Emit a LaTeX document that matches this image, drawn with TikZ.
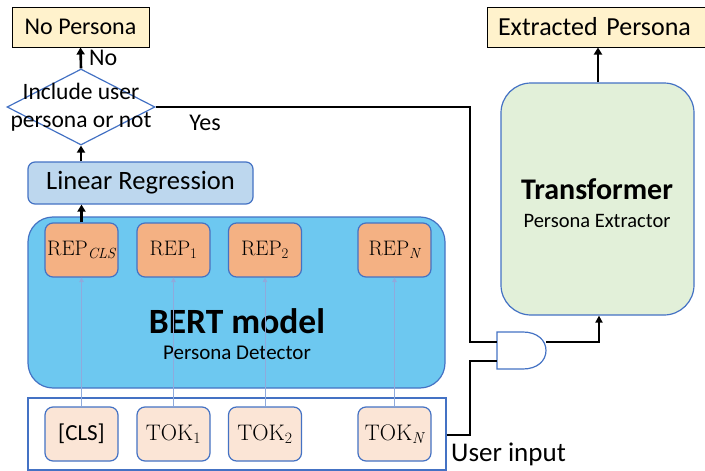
\documentclass[tikz,border=0pt]{standalone}
\usepackage{fontspec}
\setmainfont{Carlito}
\newfontfamily\serifrm{Latin Modern Roman}
\usetikzlibrary{arrows.meta,shapes.geometric}
\definecolor{obl}{HTML}{4472C4}
\definecolor{yel}{HTML}{FFF2CC}
\definecolor{lrb}{HTML}{BDD7EE}
\definecolor{bert}{HTML}{6DC8F0}
\definecolor{rep}{HTML}{F4B183}
\definecolor{tok}{HTML}{FBE5D6}
\definecolor{grn}{HTML}{E2F0D9}
\definecolor{thin}{HTML}{8FAADC}
\tikzset{
  outbox/.style={draw=black, line width=1pt, fill=yel, inner sep=0pt},
  dia/.style={draw=obl, line width=1.2pt, fill=white, shape=diamond, inner sep=0pt},
  lrbox/.style={draw=obl, line width=1.2pt, fill=lrb, rounded corners=7pt, inner sep=0pt, font=\fontsize{26.5}{30}\selectfont},
  bigbox/.style={draw=obl, line width=1.2pt, rounded corners=#1, inner sep=0pt},
  repbox/.style={draw=obl, line width=1.2pt, fill=rep, rounded corners=8pt, minimum width=73pt, minimum height=54pt, inner sep=0pt, font=\serifrm\fontsize{21}{24}\selectfont},
  tokbox/.style={draw=obl, line width=1.2pt, fill=tok, rounded corners=8pt, minimum width=73pt, minimum height=54pt, inner sep=0pt, font=\serifrm\fontsize{22.5}{24}\selectfont},
  thick arrow/.style={line width=2.6pt, -{Triangle[length=7pt,width=8pt]}},
  wire/.style={line width=1.8pt, black},
  thin arrow/.style={draw=thin, line width=0.9pt, -{Triangle[length=4.5pt,width=4.5pt]}},
  lbl/.style={inner sep=0pt, font=\fontsize{24}{28}\selectfont},
}
\begin{document}
\begin{tikzpicture}[x=1pt,y=-1pt]
\useasboundingbox (0,0) rectangle (705,471);
% output boxes
\node[outbox, minimum width=137pt, minimum height=40pt, font=\fontsize{24}{28}\selectfont] (nop) at (80.5,27) {No Persona};
\node[outbox, minimum width=222pt, minimum height=40pt, text width=200pt, align=left, font=\fontsize{26}{30}\selectfont] (extp) at (598,27) {Extracted Persona};
% decision diamond
\node[dia, minimum width=148pt, minimum height=76pt] (dec) at (81,107) {};
\node[lbl, align=center, font=\fontsize{23.5}{28}\selectfont] (dectext) at (dec.center) {Include user\\persona or not};
% linear regression
\node[lrbox, minimum width=225pt, minimum height=42pt] (lr) at (140.5,183) {Linear Regression};
% BERT
\node[bigbox=25pt, fill=bert, minimum width=417pt, minimum height=171pt] (bert) at (236.5,302.5) {};
\node[lbl, font=\bfseries\fontsize{35.5}{38}\selectfont] (berttitle) at (237,321) {BERT model};
\node[lbl, font=\fontsize{21}{24}\selectfont] (bertsub) at (237,353) {Persona Detector};
% REP boxes
\node[repbox] (r0) at (81.5,250) {REP\textsubscript{\itshape CLS}};
\node[repbox] (r1) at (173.5,250) {REP\textsubscript{1}};
\node[repbox] (r2) at (265,250) {REP\textsubscript{2}};
\node[repbox] (rn) at (394.5,250) {REP\textsubscript{\itshape N}};
% user input
\node[bigbox=0pt, fill=white, minimum width=418pt, minimum height=72pt] (ui) at (237,434) {};
\node[tokbox, font=\fontsize{23}{26}\selectfont] (t0) at (81.5,434) {[CLS]};
\node[tokbox] (t1) at (173.5,434) {TOK\textsubscript{1}};
\node[tokbox] (t2) at (265,434) {TOK\textsubscript{2}};
\node[tokbox] (tn) at (394.5,434) {TOK\textsubscript{\itshape N}};
\node[lbl, anchor=west, font=\fontsize{27}{30}\selectfont] (uilbl) at (451,454) {User input};
% transformer
\node[bigbox=30pt, fill=grn, minimum width=193pt, minimum height=232pt] (tr) at (597.5,199) {};
\node[lbl, font=\bfseries\fontsize{30}{34}\selectfont] (trtitle) at (597,189) {Transformer};
\node[lbl, font=\fontsize{20.5}{24}\selectfont] (trsub) at (597,221) {Persona Extractor};
% AND gate
\coordinate (gA) at (497,332);
\coordinate (gB) at (523,332);
\coordinate (gC) at (546,350.5);
\coordinate (gD) at (523,369);
\coordinate (gE) at (497,369);
\draw[draw=obl, line width=1.2pt, fill=white] (gA) -- (gB) .. controls (537,332) and (546,340) .. (gC) .. controls (546,361) and (537,369) .. (gD) -- (gE) -- cycle;
\coordinate (gin1) at (497,342);
\coordinate (gin2) at (497,361);
\coordinate (gout) at (546,342);
% thin arrows
\foreach \a/\b in {t0/r0,t1/r1,t2/r2,tn/rn} \draw[thin arrow] (\a.north) -- (\b.south);
% thick arrows
\draw[thick arrow] (r0.north) -- (lr.south -| r0.north);
\draw[thick arrow] (lr.north -| dec.south) -- (dec.south);
\draw[thick arrow] (dec.north) -- (nop.south);
\node[lbl, anchor=west] (nolbl) at (89,58) {No};
\draw[thick arrow] (tr.north -| 598,0) -- (extp.south -| 598,0);
% wires
\draw[wire] (dec.east) -| (470,342) -- (gin1);
\node[lbl] (yeslbl) at (205,123) {Yes};
\draw[wire] (ui.east |- 0,435) -| (470,361) -- (gin2);
\draw[wire, -{Triangle[length=7pt,width=7pt]}] (gout) -| (tr.south -| 599,0);
\end{tikzpicture}
\end{document}
